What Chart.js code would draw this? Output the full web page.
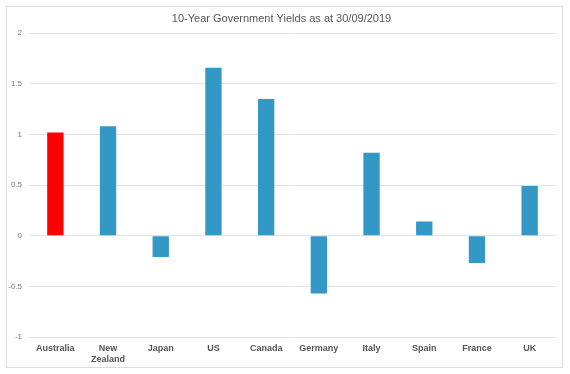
<!DOCTYPE html>
<html>
<head>
<meta charset="utf-8">
<script src="https://cdn.jsdelivr.net/npm/chart.js@4"></script>
<style>
  html, body { margin: 0; padding: 0; background: #fff; }
  #box { position: absolute; left: 6px; top: 6px; width: 555px; height: 360px; border: 1px solid #dcdcdc; }
  canvas { display: block; }
</style>
</head>
<body>
<div id="box"><canvas id="chart" width="555" height="360"></canvas></div>
<script>
const countries = ['Australia', ['New', 'Zealand'], 'Japan', 'US', 'Canada', 'Germany', 'Italy', 'Spain', 'France', 'UK']
const yields = [1.02, 1.08, -0.21, 1.66, 1.35, -0.57, 0.82, 0.14, -0.27, 0.49]
const barColours = ['#ff0000', '#3398c6', '#3398c6', '#3398c6', '#3398c6', '#3398c6', '#3398c6', '#3398c6', '#3398c6', '#3398c6']

const ctx = document.getElementById('chart').getContext('2d')
Chart.defaults.font.family = '"Liberation Sans", Arial, sans-serif'

const chart = new Chart(ctx, {
    type: 'bar',
    data: {
        labels: countries,
        datasets: [{
            label: '10-Year Yield',
            data: yields,
            backgroundColor: barColours,
            categoryPercentage: 1,
            barPercentage: 0.31,
        }]
    },
    options: {
        responsive: false,
        animation: false,
        layout: { padding: { left: 0, right: 6, top: 0, bottom: 0 } },
        plugins: {
            legend: { display: false },
            tooltip: { enabled: false },
            title: {
                display: true,
                text: '10-Year Government Yields as at 30/09/2019',
                color: '#555',
                font: { size: 11, weight: 'normal' },
                padding: { top: 5, bottom: 8 }
            }
        },
        scales: {
            x: {
                grid: { display: false, drawTicks: false },
                border: { display: false },
                ticks: { color: '#555', font: { size: 9, weight: 'bold' }, padding: 6, maxRotation: 0 },
                afterFit: s => { s.height = 30 }
            },
            y: {
                min: -1,
                max: 2,
                ticks: { stepSize: 0.5, color: '#777', font: { size: 8 }, padding: 7, callback: v => String(v) },
                grid: { color: '#e2e2e2', drawTicks: false },
                border: { display: false },
                afterFit: s => { s.width = 22 }
            }
        }
    }
})
</script>
</body>
</html>
